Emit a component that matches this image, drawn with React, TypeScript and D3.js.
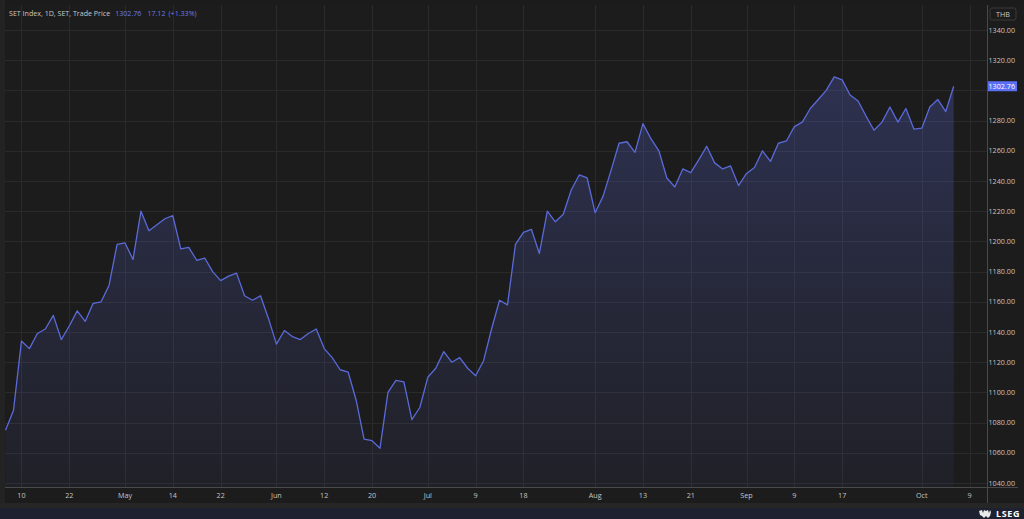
import React from "react";
import * as d3 from "d3";

const values: number[] = [
  1075, 1088, 1134, 1129, 1139, 1142, 1151, 1135, 1144, 1154,
  1147, 1159, 1160, 1171, 1198, 1199, 1188, 1220, 1207, 1211,
  1215, 1217, 1195, 1196, 1187.5, 1189, 1180, 1174, 1177, 1179,
  1164, 1161, 1164, 1149, 1132, 1141, 1137, 1135, 1139, 1142,
  1129, 1123, 1115, 1113.5, 1095, 1069, 1068, 1063, 1100, 1108,
  1107, 1082, 1090, 1110, 1116, 1127, 1120, 1123, 1116, 1111,
  1121, 1142, 1161, 1158, 1198, 1206, 1208, 1192, 1220, 1213,
  1218, 1234, 1244, 1242, 1219, 1230, 1247, 1265, 1266, 1259,
  1278, 1268, 1260, 1242, 1236, 1248, 1245.5, 1254, 1263, 1252,
  1248, 1250, 1237, 1245, 1249, 1260, 1253, 1265, 1266.5, 1276,
  1279, 1288, 1294, 1300, 1309, 1307, 1297, 1293, 1283, 1273.6,
  1279, 1289, 1279, 1288, 1274.4, 1275, 1289, 1294, 1286, 1302.76,
];

const xTickIndex: number[] = [2, 8, 15, 21, 27, 34, 40, 46, 53, 59, 65, 74, 80, 86, 93, 99, 105, 115, 121];
const xTickLabel: string[] = ["10", "22", "May", "14", "22", "Jun", "12", "20", "Jul", "9", "18", "Aug", "13", "21", "Sep", "9", "17", "Oct", "9"];
const yTicks: number[] = d3.range(1040, 1341, 20);

const lastValue = 1302.76;
const change = "17.12";
const changePct = "(+1.33%)";
const title = "SET Index, 1D, SET, Trade Price";

const W = 1024;
const H = 519;
const plotLeft = 5;
const plotRight = 987.5;
const plotTop = 5;
const axisY = 487;

const FONT = "'Open Sans', 'Noto Sans', sans-serif";

export default function App() {
  const x = d3.scaleLinear().domain([0, values.length - 1]).range([5.5, 953.7]);
  const y = d3.scaleLinear().domain([1040, 1340]).range([483, 30]);

  const line = d3
    .line<number>()
    .x((_, i) => x(i))
    .y((d) => y(d));
  const area = d3
    .area<number>()
    .x((_, i) => x(i))
    .y0(axisY)
    .y1((d) => y(d));

  const priceY = y(lastValue);
  // y tick labels hidden behind the last-price box are not drawn
  const visibleYTicks = yTicks.filter((t) => Math.abs(y(t) - priceY) > 8);

  return (
    <div style={{ position: "absolute", left: 0, top: 0, width: W, height: H }}>
      <svg width={W} height={H} style={{ display: "block" }} fontFamily={FONT}>
        <defs>
          <linearGradient id="areaGrad" gradientUnits="userSpaceOnUse" x1="0" y1={y(1310)} x2="0" y2={axisY}>
            <stop offset="0%" stopColor="#5b68d6" stopOpacity={0.28} />
            <stop offset="100%" stopColor="#5b68d6" stopOpacity={0.06} />
          </linearGradient>
          <clipPath id="plotClip">
            <rect x={plotLeft} y={plotTop} width={plotRight - plotLeft} height={axisY - plotTop} />
          </clipPath>
        </defs>

        {/* backgrounds */}
        <rect x={0} y={0} width={W} height={H} fill="#1b1b1b" />
        <rect x={0} y={0} width={plotLeft} height={508} fill="#232323" />
        <rect x={plotLeft} y={plotTop} width={W - plotLeft} height={axisY - plotTop} fill="#1c1c1c" />
        <rect x={plotLeft} y={axisY} width={W - plotLeft} height={16} fill="#1c1c1c" />
        <rect x={0} y={503} width={W} height={5} fill="#262626" />
        <rect x={0} y={508} width={W} height={H - 508} fill="#1d2130" />

        {/* grid */}
        <g stroke="#2a2a2a" strokeWidth={1}>
          {yTicks.map((t) => (
            <line key={"h" + t} x1={plotLeft} x2={plotRight} y1={Math.round(y(t)) + 0.5} y2={Math.round(y(t)) + 0.5} />
          ))}
          {xTickIndex.map((t, i) => (
            <line key={"v" + i} x1={Math.round(x(t)) + 0.5} x2={Math.round(x(t)) + 0.5} y1={plotTop} y2={axisY} />
          ))}
        </g>

        {/* area + line */}
        <g clipPath="url(#plotClip)">
          <path d={area(values) || ""} fill="url(#areaGrad)" />
          <path d={line(values) || ""} fill="none" stroke="#5a6ad9" strokeWidth={1.3} strokeLinejoin="round" />
        </g>

        {/* axes lines */}
        <line x1={plotLeft} x2={W - 6} y1={axisY + 0.5} y2={axisY + 0.5} stroke="#4a4a4a" strokeWidth={1} />
        <line x1={plotRight} x2={plotRight} y1={plotTop} y2={503} stroke="#4a4a4a" strokeWidth={1} />

        {/* y labels */}
        <g fontSize={7.2} fill="#c4c4c4" textAnchor="end">
          {visibleYTicks.map((t) => (
            <text key={"yl" + t} x={1015} y={y(t) + 2.6}>
              {t.toFixed(2)}
            </text>
          ))}
        </g>

        {/* x labels */}
        <g fontSize={7.2} fill="#c4c4c4" textAnchor="middle">
          {xTickIndex.map((t, i) => (
            <text key={"xl" + i} x={x(t)} y={497.5}>
              {xTickLabel[i]}
            </text>
          ))}
        </g>

        {/* THB box */}
        <rect x={990} y={8} width={26} height={12} rx={2} fill="#1c1c1c" stroke="#3a3a3a" strokeWidth={1} />
        <text x={1003} y={16.8} fontSize={7.2} fill="#c8c8c8" textAnchor="middle">THB</text>

        {/* last price label */}
        <rect x={988} y={priceY - 5} width={29} height={10} fill="#5b6ff2" />
        <text x={1015} y={priceY + 2.6} fontSize={7.2} fill="#ffffff" textAnchor="end">
          {lastValue.toFixed(2)}
        </text>

        {/* header */}
        <text x={9} y={15.5} fontSize={7.1} fill="#c8c8c8">
          {title}
          <tspan dx={5} fill="#6b7be8">{lastValue.toFixed(2)}</tspan>
          <tspan dx={6} fill="#6b7be8">{change}</tspan>
          <tspan dx={3} fill="#6b7be8">{changePct}</tspan>
        </text>

        {/* LSEG logo */}
        <g transform="translate(979,509)">
          <path d="M0,2 L3,1 L4,4 L5,1 L7,2 L9,1 L10,4 L11,1 L12,3 L11,7 L9,9 L7,7 L5,9 L3,7 L1,6 Z" fill="#e8e8e8" />
        </g>
        <text x={996} y={517} fontSize={9} fontWeight="bold" fill="#ffffff" letterSpacing={0.6}>LSEG</text>
      </svg>
    </div>
  );
}
